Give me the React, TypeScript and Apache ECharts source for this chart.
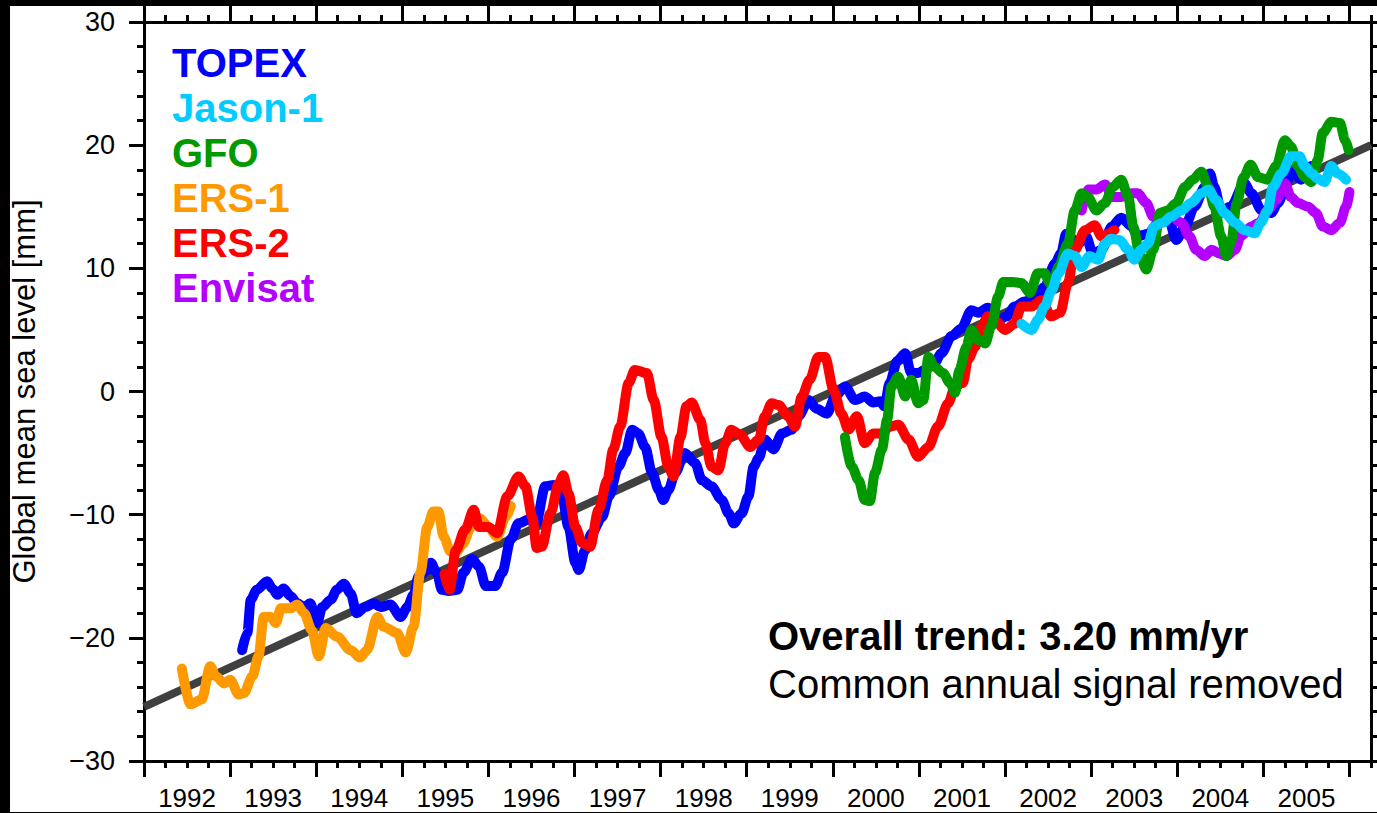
import React, { useEffect, useRef } from 'react';
import * as echarts from 'echarts';

// ---- Data (years, global mean sea level in mm) ----
const seriesNames = ['TOPEX', 'Jason-1', 'GFO', 'ERS-1', 'ERS-2', 'Envisat'];
const seriesColors = ['#0000ff', '#00ccff', '#009900', '#ff9900', '#ff0000', '#b400ff'];

const topex = [
  [1993.14, -21.0], [1993.2, -19.6], [1993.24, -16.9], [1993.31, -16.1], [1993.43, -15.4], [1993.49, -16.0],
  [1993.55, -16.5], [1993.62, -16.0], [1993.7, -16.6], [1993.78, -17.2], [1993.86, -17.5], [1993.93, -17.2],
  [1994.01, -18.8], [1994.07, -17.5], [1994.17, -16.9], [1994.24, -16.1], [1994.32, -15.6], [1994.4, -16.4],
  [1994.47, -18.0], [1994.57, -17.5], [1994.67, -17.2], [1994.75, -17.5], [1994.86, -17.3], [1994.98, -18.3],
  [1995.06, -17.5], [1995.13, -16.5], [1995.19, -15.0], [1995.29, -14.5], [1995.33, -13.9], [1995.4, -14.7],
  [1995.46, -16.1], [1995.54, -16.2], [1995.64, -16.1], [1995.71, -14.7], [1995.81, -13.6], [1995.89, -14.2],
  [1995.97, -15.8], [1996.08, -15.8], [1996.16, -14.7], [1996.26, -12.0], [1996.35, -10.7], [1996.47, -10.4],
  [1996.55, -10.8], [1996.66, -7.7], [1996.76, -7.6], [1996.85, -8.3], [1996.93, -11.0], [1997.01, -13.9],
  [1997.05, -14.5], [1997.12, -12.9], [1997.2, -11.5], [1997.32, -10.2], [1997.4, -8.5], [1997.51, -6.1],
  [1997.59, -5.0], [1997.67, -3.1], [1997.74, -3.4], [1997.82, -4.5], [1997.9, -6.6], [1997.98, -8.0],
  [1998.03, -8.8], [1998.09, -8.0], [1998.17, -6.6], [1998.28, -5.0], [1998.4, -5.8], [1998.48, -7.2],
  [1998.59, -7.7], [1998.71, -8.8], [1998.79, -9.9], [1998.85, -10.7], [1998.94, -9.9], [1999.02, -8.5],
  [1999.08, -6.1], [1999.14, -5.4], [1999.21, -3.9], [1999.31, -4.7], [1999.41, -3.4], [1999.52, -3.1],
  [1999.6, -2.0], [1999.72, -0.7], [1999.81, -1.4], [1999.93, -1.8], [2000.03, -0.4], [2000.14, 0.4],
  [2000.26, -0.7], [2000.37, -0.4], [2000.47, -0.9], [2000.55, -0.8], [2000.6, -1.2], [2000.66, 0.7],
  [2000.75, 2.5], [2000.84, 3.1], [2000.91, 1.5], [2000.99, 1.5], [2001.08, 1.8], [2001.18, 2.3],
  [2001.26, 3.1], [2001.38, 4.5], [2001.49, 5.1], [2001.61, 6.6], [2001.69, 6.4], [2001.8, 6.8],
  [2001.92, 5.8], [2002.02, 6.1], [2002.11, 6.9], [2002.23, 7.3], [2002.35, 7.7], [2002.46, 8.5],
  [2002.58, 10.4], [2002.65, 11.2], [2002.71, 12.8], [2002.85, 12.0], [2002.94, 12.6], [2003.02, 11.2],
  [2003.12, 11.5], [2003.24, 13.4], [2003.35, 14.1], [2003.47, 13.4], [2003.54, 12.6], [2003.66, 12.8],
  [2003.78, 13.7], [2003.89, 14.2], [2003.99, 12.3], [2004.09, 13.4], [2004.2, 15.0], [2004.32, 16.6],
  [2004.38, 17.7], [2004.43, 16.6], [2004.51, 14.7], [2004.62, 15.0], [2004.78, 16.9], [2004.86, 16.1],
  [2004.98, 14.7], [2005.09, 14.5], [2005.17, 15.3], [2005.27, 16.9], [2005.32, 18.0], [2005.44, 17.2],
  [2005.55, 18.3],
];

const jason1 = [
  [2002.19, 5.5], [2002.31, 5.0], [2002.38, 5.8], [2002.46, 6.9], [2002.54, 8.2], [2002.62, 9.6],
  [2002.73, 11.2], [2002.81, 11.0], [2002.89, 10.1], [2002.98, 11.0], [2003.08, 10.7], [2003.16, 12.0],
  [2003.23, 12.4], [2003.33, 12.3], [2003.43, 11.5], [2003.5, 10.7], [2003.58, 11.5], [2003.66, 12.0],
  [2003.73, 13.4], [2003.83, 13.7], [2003.93, 14.2], [2004.05, 14.7], [2004.16, 15.3], [2004.28, 16.1],
  [2004.36, 16.4], [2004.45, 15.55], [2004.55, 14.5], [2004.67, 13.7], [2004.78, 13.1], [2004.9, 12.85],
  [2004.97, 13.7], [2005.05, 14.7], [2005.11, 16.6], [2005.21, 17.7], [2005.32, 19.1], [2005.42, 19.1],
  [2005.48, 18.3], [2005.56, 17.7], [2005.63, 17.3], [2005.71, 17.0], [2005.79, 18.3], [2005.86, 17.7],
  [2005.96, 17.2],
];

const gfo = [
  [2000.14, -3.7], [2000.22, -6.1], [2000.3, -7.2], [2000.37, -8.8], [2000.43, -8.9], [2000.49, -6.6],
  [2000.57, -4.7], [2000.63, -2.3], [2000.68, 0.4], [2000.76, 1.2], [2000.84, -0.4], [2000.91, 0.95],
  [2000.99, -0.95], [2001.05, -0.7], [2001.11, 2.8], [2001.18, 2.0], [2001.28, 1.5], [2001.36, 0.7],
  [2001.42, -0.1], [2001.47, 1.75], [2001.55, 3.6], [2001.61, 5.0], [2001.69, 4.2], [2001.77, 3.9],
  [2001.84, 5.3], [2001.92, 7.7], [2001.98, 8.9], [2002.09, 8.9], [2002.19, 8.8], [2002.29, 8.0],
  [2002.38, 9.6], [2002.46, 9.6], [2002.52, 8.8], [2002.57, 9.2], [2002.62, 10.1], [2002.73, 12.0],
  [2002.81, 14.7], [2002.89, 16.1], [2002.96, 15.8], [2003.06, 14.7], [2003.16, 15.3], [2003.25, 16.6],
  [2003.35, 17.2], [2003.43, 15.8], [2003.49, 13.4], [2003.56, 11.2], [2003.64, 9.9], [2003.72, 11.5],
  [2003.8, 14.5], [2003.89, 14.7], [2003.99, 15.3], [2004.09, 16.6], [2004.18, 17.2], [2004.28, 17.85],
  [2004.36, 16.6], [2004.43, 15.0], [2004.51, 12.6], [2004.57, 11.0], [2004.63, 12.3], [2004.69, 15.3],
  [2004.77, 17.4], [2004.85, 18.4], [2004.94, 17.4], [2005.05, 17.2], [2005.15, 18.3], [2005.25, 20.4],
  [2005.32, 19.9], [2005.4, 18.3], [2005.48, 17.4], [2005.56, 17.0], [2005.63, 18.8], [2005.69, 21.0],
  [2005.79, 21.9], [2005.89, 21.8], [2005.95, 20.4], [2005.99, 19.6],
];

const ers1 = [
  [1992.44, -22.5], [1992.54, -25.4], [1992.67, -25.0], [1992.77, -22.3], [1992.83, -23.1], [1992.93, -23.7],
  [1993.0, -23.4], [1993.1, -24.6], [1993.16, -24.5], [1993.26, -23.1], [1993.33, -21.5], [1993.39, -18.3],
  [1993.47, -18.3], [1993.53, -18.8], [1993.59, -17.6], [1993.7, -17.6], [1993.78, -17.3], [1993.86, -18.0],
  [1993.95, -19.4], [1994.03, -21.5], [1994.11, -19.2], [1994.24, -19.9], [1994.4, -21.0], [1994.51, -21.6],
  [1994.59, -21.0], [1994.71, -18.3], [1994.78, -19.1], [1994.94, -19.6], [1995.04, -21.2], [1995.13, -19.1],
  [1995.21, -14.7], [1995.29, -11.0], [1995.36, -9.75], [1995.42, -9.75], [1995.48, -11.8], [1995.56, -13.0],
  [1995.62, -13.1], [1995.7, -12.4], [1995.8, -11.0], [1995.9, -10.3], [1996.0, -11.0], [1996.1, -11.8],
  [1996.2, -10.2], [1996.26, -9.3],
];

const ers2 = [
  [1995.49, -14.8], [1995.55, -16.1], [1995.62, -12.9], [1995.73, -11.2], [1995.83, -9.6], [1995.89, -11.0],
  [1996.0, -11.0], [1996.1, -11.5], [1996.22, -8.5], [1996.35, -6.9], [1996.43, -7.7], [1996.51, -10.2],
  [1996.56, -12.7], [1996.62, -12.6], [1996.72, -9.9], [1996.82, -7.4], [1996.87, -6.8], [1996.93, -8.3],
  [1997.01, -11.0], [1997.09, -12.3], [1997.18, -12.6], [1997.28, -9.6], [1997.38, -7.2], [1997.45, -4.7],
  [1997.53, -2.85], [1997.63, 0.7], [1997.7, 1.75], [1997.84, 1.5], [1997.92, -0.7], [1998.01, -3.7],
  [1998.09, -6.1], [1998.15, -6.9], [1998.23, -3.7], [1998.3, -1.2], [1998.36, -0.9], [1998.46, -2.3],
  [1998.52, -4.2], [1998.59, -6.1], [1998.67, -6.4], [1998.75, -4.2], [1998.82, -3.1], [1998.92, -3.5],
  [1999.04, -4.5], [1999.14, -3.9], [1999.21, -2.0], [1999.29, -0.95], [1999.37, -1.1], [1999.48, -2.0],
  [1999.56, -2.85], [1999.64, -0.4], [1999.73, 0.95], [1999.83, 2.8], [1999.91, 2.8], [2000.01, 0.1],
  [2000.1, -1.8], [2000.18, -3.1], [2000.28, -2.0], [2000.37, -4.2], [2000.47, -3.4], [2000.57, -3.4],
  [2000.66, -2.85], [2000.76, -2.7], [2000.88, -3.9], [2000.99, -5.3], [2001.11, -4.5], [2001.22, -2.85],
  [2001.34, -0.95], [2001.42, 0.4], [2001.51, 0.7], [2001.57, 2.6], [2001.65, 3.6], [2001.73, 5.3],
  [2001.8, 6.1], [2001.88, 5.8], [2002.0, 5.0], [2002.11, 5.5], [2002.19, 6.9], [2002.31, 6.9],
  [2002.42, 7.4], [2002.54, 6.1], [2002.64, 6.4], [2002.73, 8.8], [2002.81, 11.5], [2002.93, 13.1],
  [2003.04, 13.5], [2003.12, 12.6], [2003.27, 13.1],
];

const envisat = [
  [2002.89, 14.7], [2002.96, 16.4], [2003.06, 16.4], [2003.16, 16.8], [2003.25, 15.8], [2003.35, 15.8],
  [2003.47, 16.1], [2003.54, 16.1], [2003.64, 15.3], [2003.72, 14.2], [2003.81, 13.9], [2003.93, 14.2],
  [2004.05, 13.7], [2004.14, 12.6], [2004.22, 11.5], [2004.32, 11.0], [2004.4, 11.5], [2004.49, 11.2],
  [2004.57, 11.0], [2004.67, 11.5], [2004.74, 12.6], [2004.86, 13.4], [2004.95, 13.7], [2005.05, 14.7],
  [2005.15, 15.55], [2005.25, 16.9], [2005.32, 15.8], [2005.4, 15.3], [2005.52, 15.0], [2005.61, 14.5],
  [2005.69, 13.4], [2005.79, 13.1], [2005.89, 13.7], [2005.96, 15.0], [2006.0, 16.2],
];

// overall trend line end points (3.20 mm/yr)
const trendLine = [[1992.0, -25.6], [2006.25, 20.0]];

const yearTicks = [1992, 1993, 1994, 1995, 1996, 1997, 1998, 1999, 2000, 2001, 2002, 2003, 2004, 2005, 2006];
const yearLabels = ['1992', '1993', '1994', '1995', '1996', '1997', '1998', '1999', '2000', '2001', '2002', '2003', '2004', '2005'];
const annotationLines = ['Overall trend: 3.20 mm/yr', 'Common annual signal removed'];

const FONT = '"Liberation Sans", Arial, Helvetica, sans-serif';

export default function App() {
  const ref = useRef<HTMLDivElement>(null);

  useEffect(() => {
    document.body.style.margin = '0';
    document.body.style.background = '#000';
    if (!ref.current) return;
    const chart = echarts.init(ref.current, null, { renderer: 'svg' });

    const seriesData: Record<string, number[][]> = {
      'TOPEX': topex,
      'Jason-1': jason1,
      'GFO': gfo,
      'ERS-1': ers1,
      'ERS-2': ers2,
      'Envisat': envisat,
    };
    const drawOrder = ['TOPEX', 'ERS-1', 'ERS-2', 'Envisat', 'GFO', 'Jason-1'];

    const tickStyle = { color: '#000', width: 3 };
    const labelPos = yearLabels.map((l) => Number(l) + 0.5);
    const yFmt = (v: number) => (v < 0 ? '\u2212' + Math.abs(v) : String(v));

    const xCommon = { type: 'value', min: 1992, max: 2006.25, splitLine: { show: false } };

    const option: any = {
      animation: false,
      backgroundColor: '#ffffff',
      grid: { left: 144, right: 6, top: 22, bottom: 52, containLabel: false, outerBoundsMode: 'none' },
      xAxis: [
        {
          ...xCommon,
          position: 'bottom',
          axisLine: { show: true, onZero: false, lineStyle: tickStyle },
          axisTick: { show: true, customValues: yearTicks, length: 16, lineStyle: tickStyle },
          axisLabel: {
            show: true,
            customValues: labelPos,
            formatter: (v: number) => String(Math.floor(v)),
            margin: 24,
            fontSize: 26,
            color: '#000',
            fontFamily: FONT,
          },
        },
        {
          ...xCommon,
          position: 'bottom',
          interval: 0.25,
          axisLine: { show: false, onZero: false },
          axisTick: { show: true, length: 7, lineStyle: tickStyle },
          axisLabel: { show: false },
        },
        {
          ...xCommon,
          position: 'top',
          axisLine: { show: true, onZero: false, lineStyle: tickStyle },
          axisTick: { show: true, customValues: yearTicks, length: 16, lineStyle: tickStyle },
          axisLabel: { show: false },
        },
        {
          ...xCommon,
          position: 'top',
          interval: 0.25,
          axisLine: { show: false, onZero: false },
          axisTick: { show: true, length: 7, lineStyle: tickStyle },
          axisLabel: { show: false },
        },
      ],
      yAxis: [
        {
          type: 'value',
          min: -30,
          max: 30,
          interval: 10,
          position: 'left',
          name: 'Global mean sea level [mm]',
          nameLocation: 'middle',
          nameGap: 104,
          nameTextStyle: { fontSize: 31, color: '#000', fontFamily: FONT },
          axisLine: { show: true, onZero: false, lineStyle: tickStyle },
          axisTick: { show: true, length: 15, lineStyle: tickStyle },
          minorTick: { show: true, splitNumber: 5, length: 7, lineStyle: tickStyle },
          axisLabel: { show: true, formatter: yFmt, margin: 29, fontSize: 27, color: '#000', fontFamily: FONT },
          splitLine: { show: false },
        },
        {
          type: 'value',
          min: -30,
          max: 30,
          interval: 10,
          position: 'right',
          axisLine: { show: true, onZero: false, lineStyle: tickStyle },
          axisTick: { show: true, length: 15, lineStyle: tickStyle },
          minorTick: { show: true, splitNumber: 5, length: 7, lineStyle: tickStyle },
          axisLabel: { show: false },
          splitLine: { show: false },
        },
      ],
      series: [
        {
          name: 'Overall trend',
          type: 'line',
          data: trendLine,
          showSymbol: false,
          symbol: 'none',
          lineStyle: { color: '#404040', width: 8 },
          xAxisIndex: 0,
          yAxisIndex: 0,
        },
        ...drawOrder.map((name) => ({
          name,
          type: 'line',
          data: seriesData[name],
          showSymbol: false,
          symbol: 'none',
          smooth: 0.3,
          smoothMonotone: 'x',
          xAxisIndex: 0,
          yAxisIndex: 0,
          lineStyle: {
            color: seriesColors[seriesNames.indexOf(name)],
            width: 10,
            cap: 'round',
            join: 'round',
          },
        })),
      ],
      graphic: [
        ...seriesNames.map((name, i) => ({
          type: 'text',
          x: 172,
          y: 62.5 + i * 45,
          style: {
            text: name,
            fill: seriesColors[i],
            font: `bold 40px ${FONT}`,
            textAlign: 'left',
            textVerticalAlign: 'middle',
          },
          z: 50,
        })),
        {
          type: 'text',
          x: 768,
          y: 636,
          style: {
            text: annotationLines[0],
            fill: '#000',
            font: `bold 40px ${FONT}`,
            textAlign: 'left',
            textVerticalAlign: 'middle',
          },
          z: 50,
        },
        {
          type: 'text',
          x: 768,
          y: 684,
          style: {
            text: annotationLines[1],
            fill: '#000',
            font: `40px ${FONT}`,
            textAlign: 'left',
            textVerticalAlign: 'middle',
          },
          z: 50,
        },
        { type: 'rect', shape: { x: 0, y: 0, width: 10, height: 813 }, style: { fill: '#000' }, z: 100 },
        { type: 'rect', shape: { x: 0, y: 0, width: 1377, height: 6 }, style: { fill: '#000' }, z: 100 },
        { type: 'rect', shape: { x: 0, y: 812, width: 1377, height: 1 }, style: { fill: '#000' }, z: 100 },
      ],
    };

    chart.setOption(option);
    return () => {
      chart.dispose();
    };
  }, []);

  return <div ref={ref} style={{ width: 1377, height: 813 }} />;
}
